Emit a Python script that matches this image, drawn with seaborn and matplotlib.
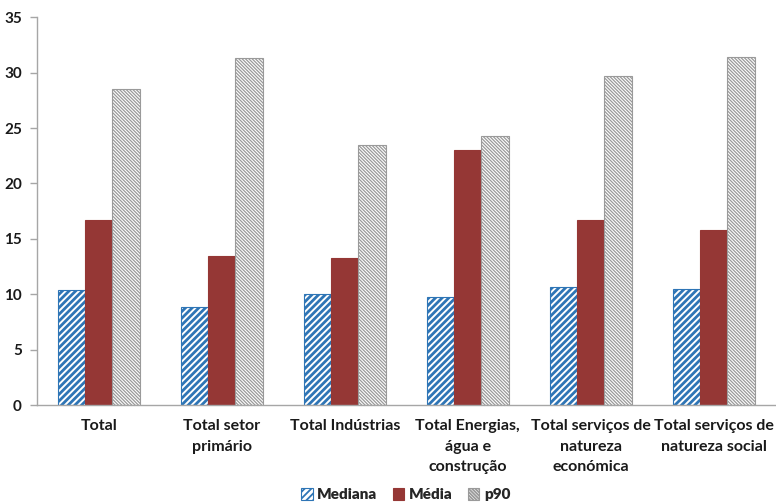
import numpy as np
import pandas as pd
import matplotlib
matplotlib.use("Agg")
import matplotlib.pyplot as plt
import seaborn as sns
from matplotlib.patches import Patch

categories = [
    "Total",
    "Total setor\nprimário",
    "Total Indústrias",
    "Total Energias,\nágua e\nconstrução",
    "Total serviços de\nnatureza\neconómica",
    "Total serviços de\nnatureza social",
]
series = ["Mediana", "Média", "p90"]
mediana = [10.4, 8.9, 10.0, 9.8, 10.7, 10.5]
media = [16.7, 13.5, 13.3, 23.0, 16.7, 15.8]
p90 = [28.5, 31.3, 23.5, 24.3, 29.7, 31.4]
y_ticks = [0, 5, 10, 15, 20, 25, 30, 35]

sns.set_theme(style="white")
plt.rcParams["font.family"] = ["Lato", "DejaVu Sans"]
plt.rcParams["hatch.linewidth"] = 1.3

df = pd.DataFrame({
    "cat": np.repeat(categories, 3),
    "serie": series * len(categories),
    "valor": np.ravel(np.column_stack([mediana, media, p90])),
})

fig = plt.figure(figsize=(7.76, 5.04), dpi=100)
ax = fig.add_axes([0.048, 0.196, 0.951, 0.770])

styles = {
    "Mediana": dict(fc="white", ec="#2E75B6", hatch="/////", hlw=2.0),
    "Média": dict(fc="#953735", ec="#953735", hatch=None, hlw=1.0),
    "p90": dict(fc="white", ec="#9a9a9a", hatch="\\" * 10, hlw=0.9),
}

sns.barplot(data=df, x="cat", y="valor", hue="serie", hue_order=series,
            order=categories, width=0.67, gap=0, legend=False, ax=ax,
            palette={"Mediana": "white", "Média": "#953735", "p90": "white"})


def style_patch(p, st):
    p.set_facecolor(st["fc"])
    p.set_edgecolor(st["ec"])
    p.set_linewidth(0.8)
    if st["hatch"]:
        p.set_hatch(st["hatch"])
        if hasattr(p, "set_hatch_linewidth"):
            p.set_hatch_linewidth(st["hlw"])
        else:
            p._hatch_linewidth = st["hlw"]


for container, s in zip(ax.containers, series):
    for bar in container:
        style_patch(bar, styles[s])

ax.set_xlim(-0.5, len(categories) - 0.5)
ax.set_ylim(0, 35)
ax.set_yticks(y_ticks)
ax.set_xlabel("")
ax.set_ylabel("")

for sp in ["top", "right"]:
    ax.spines[sp].set_visible(False)
for sp in ["left", "bottom"]:
    ax.spines[sp].set_color("#a6a6a6")
    ax.spines[sp].set_linewidth(1.0)

ax.set_xticks(np.arange(-0.5, len(categories), 1), minor=True)
ax.tick_params(axis="x", which="major", length=0, pad=10)
ax.tick_params(axis="x", which="minor", length=6, color="#a6a6a6", width=1)
ax.tick_params(axis="y", length=5, color="#a6a6a6", width=1, pad=6, direction="out", left=True)
ax.set_xticklabels(categories, fontsize=11.5, fontweight="bold", linespacing=1.6, color="#1a1a1a")
for lab in ax.get_yticklabels():
    lab.set_fontsize(11)
    lab.set_fontweight("bold")
    lab.set_color("#1a1a1a")

handles = []
for s in series:
    h = Patch(label=s)
    style_patch(h, styles[s])
    handles.append(h)
fig.legend(handles=handles, loc="lower center", bbox_to_anchor=(0.523, -0.022),
           ncol=3, frameon=False, handlelength=0.75, handleheight=0.75,
           handletextpad=0.3, columnspacing=1.0,
           prop={"family": "Lato", "weight": "heavy", "size": 11})

fig.savefig("out.png", dpi=100)
